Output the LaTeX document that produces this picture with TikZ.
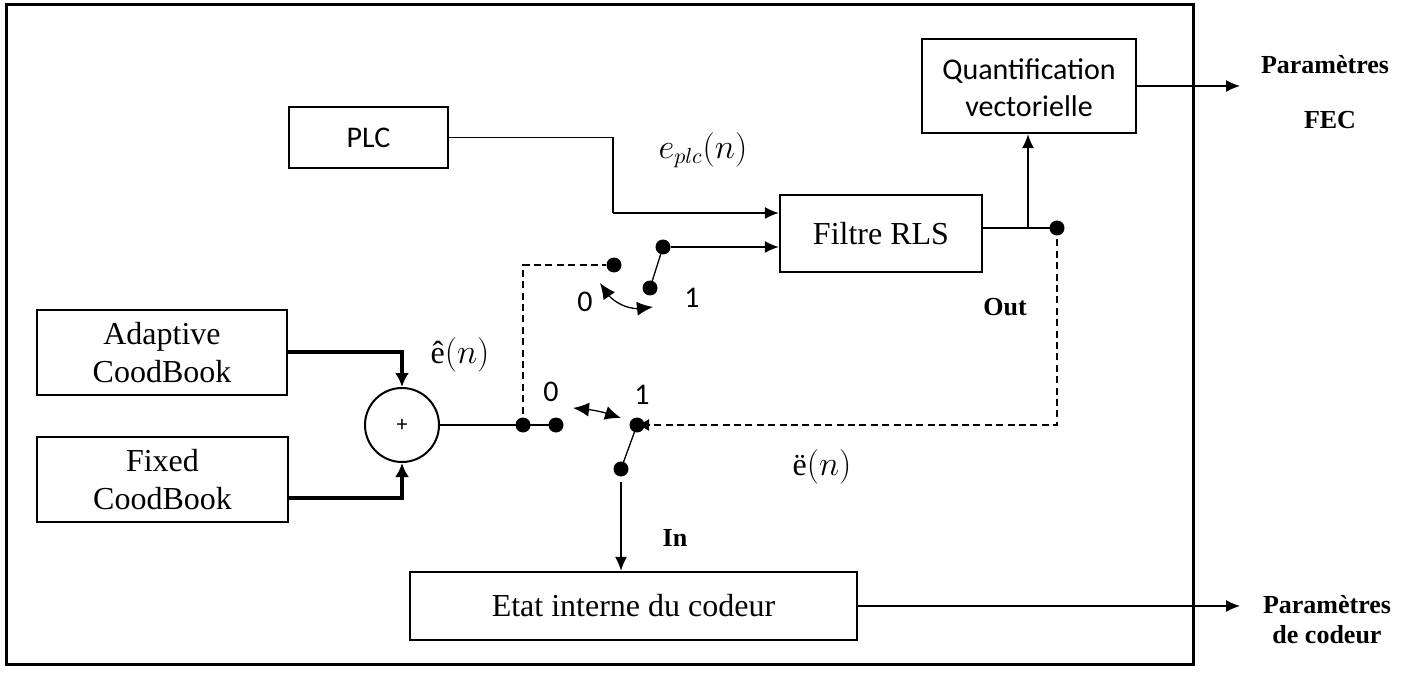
\documentclass[tikz,border=0pt]{standalone}
\usepackage{fontspec}
\setmainfont{Liberation Serif}
\newfontfamily\calib{Carlito}
\usetikzlibrary{arrows.meta,fit,bending}
\begin{document}
\begin{tikzpicture}[x=0.5pt,y=-0.5pt,
  box/.style={draw,line width=1.2pt,inner sep=0pt},
  tnr/.style={font=\fontsize{16}{19}\selectfont,align=center},
  cal/.style={font=\calib\fontsize{15}{18.5}\selectfont,align=center},
  bl/.style={font=\bfseries\fontsize{13}{15}\selectfont,align=center},
  dot/.style={circle,fill,inner sep=0pt,minimum size=7.5pt},
  conn/.style={line width=0.65pt},
  arr/.style={conn,-{Latex[length=7pt,width=6pt]}},
  thickarr/.style={line width=2pt,-{Latex[length=7pt,width=7pt]}},
  dsh/.style={conn,dash pattern=on 3.5pt off 2.2pt},
  darr/.style={conn,{Latex[length=8pt,width=7pt]}-{Latex[length=8pt,width=7pt]}}]
\useasboundingbox (0,0) rectangle (1405,674);
% frame
\draw[line width=1.5pt] (6,5) rectangle (1193,664);
% boxes
\node[box,fit={(289,107)(448,168)}] (plc) {};
\node[box,fit={(922,39)(1136,133)}] (quant) {};
\node[box,fit={(780,195)(982,272)}] (rls) {};
\node[box,fit={(37,310)(287,395)}] (adapt) {};
\node[box,fit={(37,437)(288,522)}] (fixed) {};
\node[box,fit={(410,572)(857,640)}] (etat) {};
\node[cal] (tplc) at (plc.center) {PLC};
\node[cal] (tquant) at ([yshift=-1pt]quant.center) {Quantification\\vectorielle};
\node[tnr] (trls) at (rls.center) {Filtre RLS};
\node[tnr] (tadapt) at (adapt.center) {Adaptive\\CoodBook};
\node[tnr] (tfixed) at (fixed.center) {Fixed\\CoodBook};
\node[tnr] (tetat) at (etat.center) {Etat interne du codeur};
\node[draw,circle,line width=1pt,minimum size=37pt,inner sep=0pt,font=\calib\fontsize{11}{12}\selectfont] (sum) at (402,425) {+};
% switch dots
\node[dot] (s0) at (614,265) {};
\node[dot] (s1) at (663,247) {};
\node[dot] (sp) at (650,288) {};
\node[dot] (j1) at (523,425) {};
\node[dot] (b0) at (556,425) {};
\node[dot] (b1) at (637,425) {};
\node[dot] (bp) at (621,469) {};
\node[dot] (od) at (1057,228) {};
% helper coordinates
\coordinate (pk) at (613,213);
\coordinate (jq) at (1028,228);
\coordinate (bpo) at (621,482);
\coordinate (fecend) at (1240,86);
\coordinate (codend) at (1240,606);
\coordinate (ta1) at (600,283);
\coordinate (ta2) at (653,307);
\coordinate (ba1) at (573,408);
\coordinate (ba2) at (621,418);
% connectors
\draw[conn] (plc.east) -| (pk);
\draw[arr] (pk) -- (rls.west |- pk);
\draw[conn] (sp.center) -- (s1.center);
\draw[arr] (s1) -- (rls.west |- s1);
\draw[dsh] (j1.center) |- (s0);
\draw[conn] (sum) -- (j1.center) -- (b0.center);
\draw[conn] (bp.center) -- (b1.center);
\draw[arr] (bpo) -- (etat.north -| bpo);
\draw[conn] (rls.east |- od) -- (od.center);
\draw[arr] (jq) -- (quant.south -| jq);
\draw[dsh,-{Latex[length=6pt,width=6pt]}] (od.center) |- (b1.center);
\draw[arr] (quant.east |- fecend) -- (fecend);
\draw[arr] (etat.east) -- (codend);
\draw[thickarr] (adapt.east |- {(0,352)}) -| (sum.north);
\draw[thickarr] (fixed.east |- {(0,498)}) -| (sum.south);
\draw[darr] (ta1) to[bend right=40] (ta2);
\draw[darr] (ba1) to[bend left=8] (ba2);
% labels
\node[tnr] (lplc) at (703,150) {$e_{plc}(n)$};
\node[tnr] (lhat) at (460,355) {ê$(n)$};
\node[tnr] (ldd) at (822,467) {ë$(n)$};
\node[bl] (lout) at (1005,307) {Out};
\node[bl] (lin) at (675,538) {In};
\node[cal] (l0t) at (585,302) {0};
\node[cal] (l1t) at (692,298) {1};
\node[cal] (l0b) at (551,392) {0};
\node[cal] (l1b) at (642,395) {1};
\node[bl] (p1) at (1325,65) {Paramètres};
\node[bl] (p2) at (1330,120) {FEC};
\node[bl] (p3) at (1327,620) {Paramètres\\de codeur};
\end{tikzpicture}
\end{document}
